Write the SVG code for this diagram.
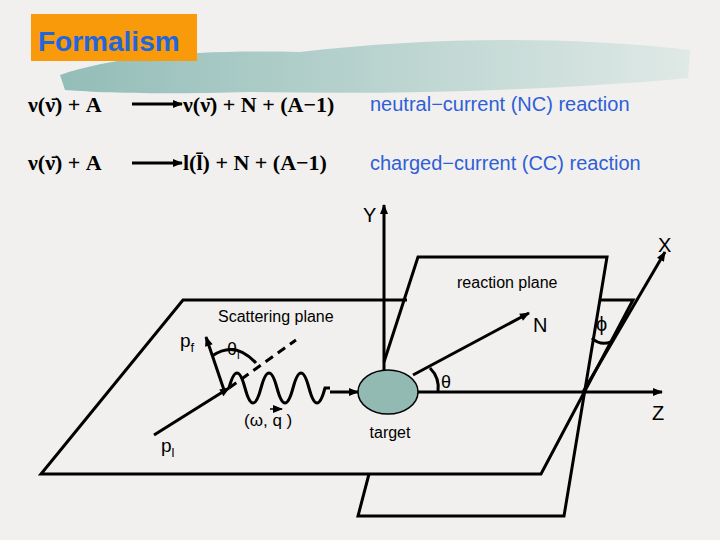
<svg xmlns="http://www.w3.org/2000/svg" width="720" height="540" viewBox="0 0 720 540">
<defs>
<linearGradient id="sw" x1="0" x2="1" y1="0" y2="0"><stop offset="0" stop-color="#93bdb8"/><stop offset="1" stop-color="#dfe9e6"/></linearGradient>
<marker id="ah" viewBox="0 0 10 10" refX="9" refY="5" markerWidth="12" markerHeight="10" markerUnits="userSpaceOnUse" orient="auto-start-reverse"><path d="M0,1 L10,5 L0,9 z" fill="#000"/></marker>
<style>
.eq{font-family:"Liberation Serif",serif;font-size:22px;font-weight:bold;fill:#000}
.bl{font-family:"Liberation Sans",sans-serif;font-size:20px;fill:#2f5fd6}
.lb{font-family:"Liberation Sans",sans-serif;fill:#000}
.ln{stroke:#000;stroke-width:3;fill:none}
.ax{stroke:#000;stroke-width:3;fill:none;marker-end:url(#ah)}
</style>
</defs>
<rect width="720" height="540" fill="#f1f0ee"/>
<path d="M60,75 C120,55 200,50 300,52 C420,38 560,35 690,50 L688,78 C560,90 400,95 250,92 C150,95 90,92 65,90 z" fill="url(#sw)"/>
<g id="title"><rect x="31" y="14" width="166" height="47" fill="#f89a0a"/><text x="38" y="51" font-family="Liberation Sans,sans-serif" font-size="28" font-weight="bold" fill="#2266dd">Formalism</text></g>
<g id="eq1">
<text class="eq" x="28" y="112">ν(ν̄) + A</text>
<line class="ax" x1="132" y1="104" x2="182" y2="104" stroke-width="2"/>
<text class="eq" x="183" y="112">ν(ν̄) + N + (A−1)</text>
<text class="bl" x="370" y="111">neutral−current (NC) reaction</text>
</g>
<g id="eq2">
<text class="eq" x="28" y="170">ν(ν̄) + A</text>
<line class="ax" x1="132" y1="163" x2="182" y2="163" stroke-width="2"/>
<text class="eq" x="183" y="170">l(l̄) + N + (A−1)</text>
<text class="bl" x="370" y="170">charged−current (CC) reaction</text>
</g>
<g id="scattering-plane">
<path class="ln" d="M407,300 L183,300 L41,474 L541,474 L633,300 L600,300"/>
<text class="lb" x="218" y="322" font-size="16">Scattering plane</text>
</g>
<g id="reaction-plane">
<path class="ln" d="M384,362 L418,257 L607,257 L564,516 L358,516 L369,474"/>
<text class="lb" x="457" y="288" font-size="16">reaction plane</text>
</g>
<g id="connectors">
<line class="ax" x1="384" y1="372" x2="384" y2="205"/>
<line class="ax" x1="418" y1="392" x2="662" y2="392"/>
<line class="ax" x1="583" y1="392" x2="665" y2="252"/>
<line class="ax" x1="413" y1="375" x2="529" y2="313"/>
<line class="ax" x1="154" y1="435" x2="229" y2="388"/>
<line class="ax" x1="224" y1="390" x2="206" y2="337"/>
<line class="ln" x1="229" y1="388" x2="296" y2="340" stroke-dasharray="9,6"/>
<path class="ln" d="M229,388 q8,-30 16,0 q8,30 16,0 q8,-30 16,0 q8,30 16,0 q8,-30 16,0 q8,30 16,0 l5,0"/>
<line class="ax" x1="330" y1="392" x2="358" y2="392"/>
<path class="ln" d="M212,356 Q235,340 256,363"/>
<path class="ln" d="M430,368 Q440,378 438,392" stroke-width="2.5"/>
<path class="ln" d="M592,338 Q600,346 611,342" stroke-width="2.5"/>
<line x1="270" y1="409" x2="282" y2="409" stroke="#000" stroke-width="1.5" marker-end="url(#ah)"/>
</g>
<g id="target"><ellipse cx="388" cy="392" rx="30" ry="22" fill="#93b9b3" stroke="#000" stroke-width="1.5"/><text class="lb" x="390" y="438" font-size="16" text-anchor="middle">target</text></g>
<g id="labels" class="lb">
<text x="363" y="222" font-size="20">Y</text>
<text x="658" y="252" font-size="20">X</text>
<text x="652" y="420" font-size="20">Z</text>
<text x="533" y="332" font-size="20">N</text>
<text x="596" y="331" font-size="20">ϕ</text>
<text x="441" y="388" font-size="18">θ</text>
<text x="180" y="347" font-size="19">p<tspan font-size="13" dy="5">f</tspan></text>
<text x="161" y="452" font-size="19">p<tspan font-size="13" dy="5">l</tspan></text>
<text x="227" y="355" font-size="18">θ<tspan font-size="12" dy="4">l</tspan></text>
<text x="244" y="426" font-size="17">(ω, q )</text>
</g>
</svg>
